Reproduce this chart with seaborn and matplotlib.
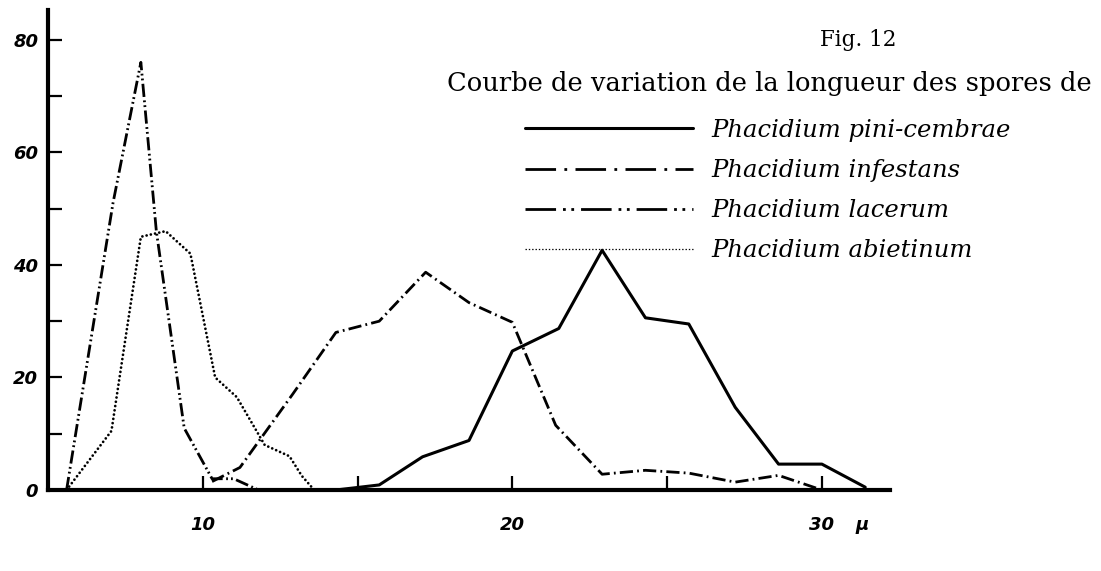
import matplotlib
matplotlib.use("Agg")
import matplotlib.pyplot as plt
from matplotlib.lines import Line2D
import seaborn as sns

# spore length (mu) and frequency
pini_x = [14.3, 15.7, 17.1, 18.6, 20.0, 21.5, 22.9, 24.3, 25.7, 27.2, 28.6, 30.0, 31.4]
pini_y = [0, 0.9, 5.9, 8.8, 24.7, 28.7, 42.6, 30.6, 29.5, 14.7, 4.6, 4.6, 0.5]

infest_x = [10.3, 11.2, 12.9, 14.3, 15.7, 17.2, 18.6, 20.0, 21.4, 22.9, 24.3, 25.7, 27.2, 28.6, 30.0]
infest_y = [1.5, 4.0, 17.0, 28.0, 30.0, 38.7, 33.3, 29.8, 11.5, 2.8, 3.5, 3.0, 1.4, 2.6, 0]

lacer_x = [5.6, 7.1, 8.0, 8.5, 9.4, 10.3, 11.0, 11.8]
lacer_y = [0, 51, 76, 46, 11, 2, 2, 0]

abiet_x = [5.6, 7.05, 8.0, 8.8, 9.6, 10.4, 11.1, 12.0, 12.8, 13.2, 13.6, 14.3]
abiet_y = [0, 10.5, 45, 46, 42, 20, 16.5, 8, 6, 2.5, 0, 0]

labels = ["Phacidium pini-cembrae", "Phacidium infestans",
          "Phacidium lacerum", "Phacidium abietinum"]

y_ticks = [0, 10, 20, 30, 40, 50, 60, 70, 80]
y_ticklabels = ["0", "", "20", "", "40", "", "60", "", "80"]
x_ticks = [10, 15, 20, 25, 30, 31.3]
x_ticklabels = ["10", "", "20", "", "30", "\u03bc"]

sns.set_style("ticks")
plt.rcParams["lines.scale_dashes"] = False
plt.rcParams["text.color"] = "black"
plt.rcParams["axes.edgecolor"] = "black"
plt.rcParams["xtick.color"] = "black"
plt.rcParams["ytick.color"] = "black"

fig = plt.figure(figsize=(11.01, 5.71), dpi=100)
ax = fig.add_axes([48 / 1101, 81 / 571, 842 / 1101, 480 / 571])

# the four curves
sns.lineplot(x=pini_x, y=pini_y, ax=ax, color="black", lw=2.2, ls="-",
             sort=False, estimator=None)
sns.lineplot(x=infest_x, y=infest_y, ax=ax, color="black", lw=2.0,
             ls=(0, (9.5, 3, 1.3, 3)), sort=False, estimator=None)
sns.lineplot(x=lacer_x, y=lacer_y, ax=ax, color="black", lw=2.0,
             ls=(0, (9.5, 2.5, 1.3, 2.2, 1.3, 2.5)), sort=False, estimator=None)
sns.lineplot(x=abiet_x, y=abiet_y, ax=ax, color="black", lw=2.0,
             ls=(0, (0.01, 3.1)), dash_capstyle="round", sort=False, estimator=None)

ax.set_xlim(5, 32.2)
ax.set_ylim(0, 85.3)
ax.set_xlabel("")
ax.set_ylabel("")

# axes look
sns.despine(ax=ax)
for s in ["left", "bottom"]:
    ax.spines[s].set_linewidth(3)
    ax.spines[s].set_color("black")
ax.set_yticks(y_ticks)
ax.set_yticklabels(y_ticklabels)
ax.set_xticks(x_ticks)
ax.set_xticklabels(x_ticklabels)
ax.tick_params(axis="both", direction="in", length=10, width=1.6, color="black",
               labelcolor="black")
ax.tick_params(axis="y", pad=7)
ax.tick_params(axis="x", pad=19)
ax.xaxis.get_major_ticks()[-1].tick1line.set_visible(False)
for tl in ax.get_xticklabels() + ax.get_yticklabels():
    tl.set_family("DejaVu Sans")
    tl.set_style("italic")
    tl.set_weight("bold")
    tl.set_fontsize(13)

# caption
fig.text(858 / 1101, 1 - 40 / 571, "Fig. 12", ha="center", va="center",
         family="DejaVu Serif", size=15.5, color="black")
fig.text(1092 / 1101, 1 - 84 / 571, "Courbe de variation de la longueur des spores de",
         ha="right", va="center", family="DejaVu Serif", size=18.5, color="black")

# legend
handles = [
    Line2D([], [], color="black", lw=2.2),
    Line2D([], [], color="black", lw=2.0, ls=(0, (22, 6, 2, 6))),
    Line2D([], [], color="black", lw=2.0, ls=(0, (22, 5, 2, 4, 2, 5))),
    Line2D([], [], color="black", lw=0.9, ls=(0, (1, 1.4))),
]
fig.legend(handles, labels, loc="upper left", bbox_to_anchor=(525 / 1101, 1 - 119 / 571),
           frameon=False, handlelength=6.9, handletextpad=0.75, labelspacing=0.7,
           borderaxespad=0, borderpad=0, labelcolor="black",
           prop={"family": "DejaVu Serif", "style": "italic", "size": 17.5})

fig.savefig("out.png", dpi=100)
